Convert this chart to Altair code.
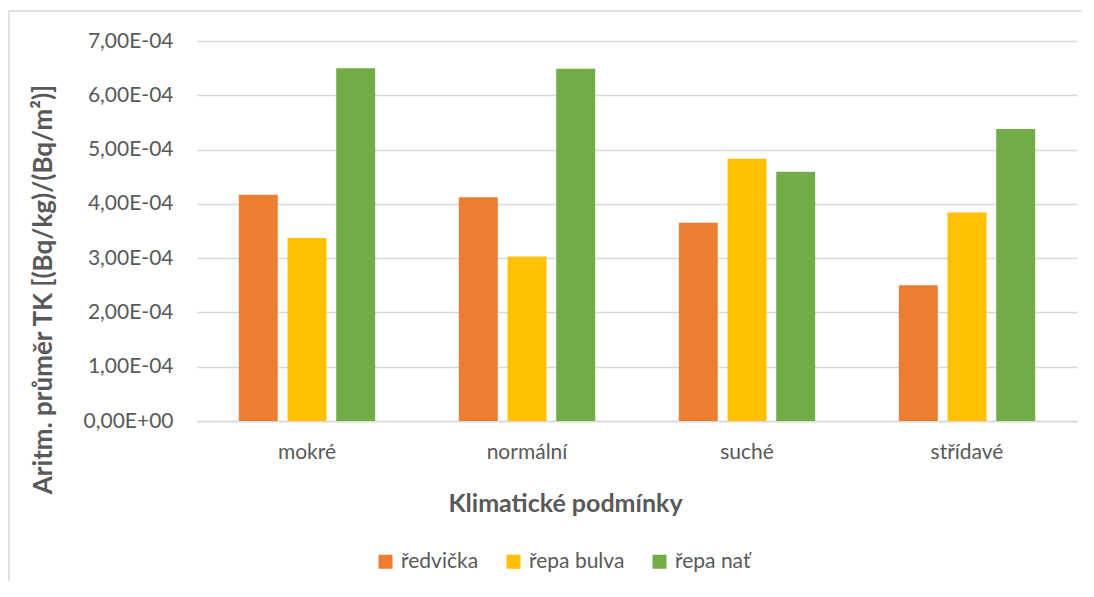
import altair as alt
import pandas as pd

categories = ["mokré", "normální", "suché", "střídavé"]
series = ["ředvička", "řepa bulva", "řepa nať"]
colors = ["#ED7D31", "#FFC000", "#70AD47"]
redvicka = [4.17e-4, 4.12e-4, 3.65e-4, 2.50e-4]
repa_bulva = [3.37e-4, 3.03e-4, 4.83e-4, 3.84e-4]
repa_nat = [6.50e-4, 6.49e-4, 4.59e-4, 5.38e-4]
y_ticks = [0, 1e-4, 2e-4, 3e-4, 4e-4, 5e-4, 6e-4, 7e-4]

rows = []
for name, vals in zip(series, [redvicka, repa_bulva, repa_nat]):
    for c, v in zip(categories, vals):
        rows.append({"kategorie": c, "serie": name, "hodnota": v})
df = pd.DataFrame(rows)

FONT = "Lato"
GRAY = "#595959"
FRAME = "#d9d9d9"

label_expr = ("datum.value == 0 ? '0,00E+00' : "
              "replace(format(datum.value * 1e4, '.2f'), '.', ',') + 'E-04'")

bars = alt.Chart(df).mark_bar().encode(
    x=alt.X("kategorie:N", sort=categories,
            scale=alt.Scale(paddingInner=0.336, paddingOuter=0.168),
            axis=alt.Axis(title="Klimatické podmínky", labelAngle=0, ticks=False,
                          domain=True, domainColor="#d9d9d9", domainWidth=1.5,
                          labelPadding=20, titlePadding=29, titleX=368,
                          labelFontSize=21, titleFontSize=25)),
    xOffset=alt.XOffset("serie:N", sort=series,
                        scale=alt.Scale(paddingInner=0.2, paddingOuter=0.1)),
    y=alt.Y("hodnota:Q",
            scale=alt.Scale(domain=[0, 7e-4], nice=False),
            axis=alt.Axis(title="Aritm. průměr TK [(Bq/kg)/(Bq/m²)]",
                          values=y_ticks, labelExpr=label_expr, ticks=False,
                          domain=False, labelPadding=24, titlePadding=27,
                          titleY=248,
                          labelFontSize=21, titleFontSize=26,
                          gridColor="#d9d9d9", gridWidth=1.5)),
    color=alt.Color("serie:N", sort=series,
                    scale=alt.Scale(domain=series, range=colors),
                    legend=alt.Legend(title=None, orient="none", direction="horizontal",
                                      legendX=178, legendY=510,
                                      symbolType="square", symbolSize=196,
                                      symbolStrokeWidth=0, labelFontSize=21,
                                      labelOffset=5, columnPadding=24)),
)

frame_df = pd.DataFrame({"k": [0]})
frame_top = alt.Chart(frame_df).mark_rule(color=FRAME, strokeWidth=1.5).encode(
    x=alt.value(-188), x2=alt.value(885), y=alt.value(-30))
frame_left = alt.Chart(frame_df).mark_rule(color=FRAME, strokeWidth=1.5).encode(
    x=alt.value(-188), y=alt.value(-30), y2=alt.value(540))

chart = alt.layer(bars, frame_top, frame_left).properties(
    width=880, height=380,
    padding={"left": 0, "top": 2, "right": 0, "bottom": 0},
).configure(font=FONT).configure_axis(
    labelColor=GRAY, titleColor=GRAY, labelFont=FONT, titleFont=FONT,
    titleFontWeight="bold",
).configure_legend(
    labelColor=GRAY, labelFont=FONT,
).configure_view(stroke=None)

chart.save("out.html", embed_options={"renderer": "svg", "actions": False})
